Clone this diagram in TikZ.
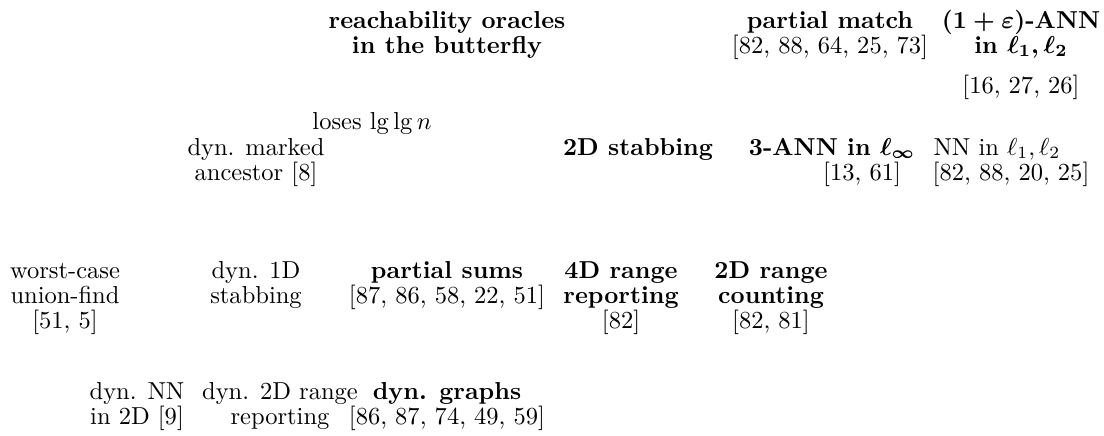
\documentclass[tikz,border=0pt]{standalone}
\usepackage{amsmath}
\begin{document}
\begin{tikzpicture}[x=0.408pt,y=-0.408pt,
  lbl/.style={align=center,anchor=base,inner sep=0pt,font=\fontsize{10}{10.2}\selectfont},
  blbl/.style={lbl,font=\fontsize{10}{10.2}\selectfont\bfseries\boldmath}]
\useasboundingbox (0,0) rectangle (1104,435);
% row A
\node[blbl] (reach) at (447,53) {reachability oracles\\in the butterfly};
\node[lbl] (pmatch) at (830,53) {\textbf{partial match}\\{[}82, 88, 64, 25, 73]};
\node[lbl] (ann) at (1021,93) {\textbf{\boldmath$(1+\varepsilon)$-ANN}\\\textbf{\boldmath in $\ell_1,\ell_2$}\\[6pt]{[}16, 27, 26]};
% row B
\node[lbl] (loses) at (372,129) {loses $\lg\lg n$};
\node[lbl] (marked) at (256,180) {dyn. marked\\ancestor [8]};
\node[blbl] (stabtwo) at (638,155) {2D stabbing};
\node[blbl] (annthree) at (832,155) {3-ANN in $\ell_\infty$};
\node[lbl] (annthreecite) at (862,180) {[13, 61]};
\node[lbl] (nn) at (997,155) {NN in $\ell_1,\ell_2$};
\node[lbl] (nncite) at (1011,180) {[82, 88, 20, 25]};
% row C
\node[lbl] (uf) at (65,328) {worst-case\\union-find\\{[}51, 5]};
\node[lbl] (stabone) at (256,303) {dyn. 1D\\stabbing};
\node[lbl] (psums) at (447,303) {\textbf{partial sums}\\{[}87, 86, 58, 22, 51]};
\node[lbl] (rfour) at (621,328) {\textbf{4D range}\\\textbf{reporting}\\{[}82]};
\node[lbl] (ctwo) at (771,328) {\textbf{2D range}\\\textbf{counting}\\{[}82, 81]};
% row D
\node[lbl] (dnn) at (137,424) {dyn. NN\\in 2D [9]};
\node[lbl] (rtwo) at (280,424) {dyn. 2D range\\reporting};
\node[lbl] (graphs) at (447,424) {\textbf{dyn. graphs}\\{[}86, 87, 74, 49, 59]};
\end{tikzpicture}
\end{document}
